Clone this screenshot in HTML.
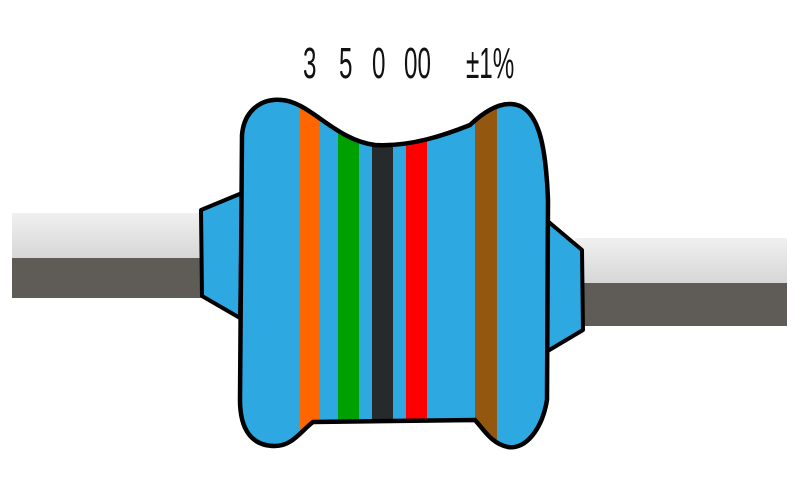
<!DOCTYPE html>
<html><head><meta charset="utf-8"><style>
html,body{margin:0;padding:0;background:#fff;width:800px;height:500px;overflow:hidden}
svg{display:block}
text{font-family:"Liberation Sans",sans-serif;font-size:44px;fill:#111}
</style></head><body>
<svg width="800" height="500" viewBox="0 0 800 500">
<defs>
<linearGradient id="lead" x1="0" y1="0" x2="0" y2="1">
<stop offset="0" stop-color="#f0f0f0"/><stop offset="1" stop-color="#d6d6d6"/></linearGradient>
<clipPath id="bodyClip"><path id="bp" d="M242,135 C244,110 262,98 282,100 C310,102 335,140 375,145 C410,147 445,135 470,125 C488,108 505,100 520,106 C540,115 546,150 548,200 L547,400 C542,430 525,450 508,447 C492,444 484,430 475,420 L313,422 C300,432 292,446 275,446 C252,446 240,430 240,400 Z"/></clipPath>
</defs>
<g>
<rect x="12" y="213" width="200" height="46" fill="url(#lead)"/>
<rect x="12" y="258" width="200" height="40" fill="#5f5c57"/>
</g>
<g>
<rect x="575" y="238" width="212" height="46" fill="url(#lead)"/>
<rect x="575" y="283" width="212" height="43" fill="#5f5c57"/>
</g>
<path d="M242,193 L201,210 L202,296 L240,318 Z" fill="#2ea8e0" stroke="#000" stroke-width="4" stroke-linejoin="round"/>
<path d="M544,218 L582,250 L583,330 L546,352 Z" fill="#2ea8e0" stroke="#000" stroke-width="4" stroke-linejoin="round"/>
<use href="#bp" fill="#2ea8e0"/>
<g clip-path="url(#bodyClip)">
<rect x="300" y="80" width="20" height="380" fill="#ff6600"/>
<rect x="338" y="80" width="21" height="340" fill="#00a000"/>
<rect x="372" y="80" width="21" height="340" fill="#262a2d"/>
<rect x="406" y="80" width="21" height="340" fill="#ff0000"/>
<rect x="475" y="80" width="22" height="380" fill="#935710"/>
</g>
<use href="#bp" fill="none" stroke="#000" stroke-width="4.5"/>
<g transform="translate(0,78)">
<text transform="translate(303,0) scale(0.55,1)">3</text>
<text transform="translate(339,0) scale(0.55,1)">5</text>
<text transform="translate(372,0) scale(0.55,1)">0</text>
<text transform="translate(404,0) scale(0.55,1)">00</text>
<text transform="translate(466,0) scale(0.55,1)">±1%</text>
</g>
</svg>
</body></html>
